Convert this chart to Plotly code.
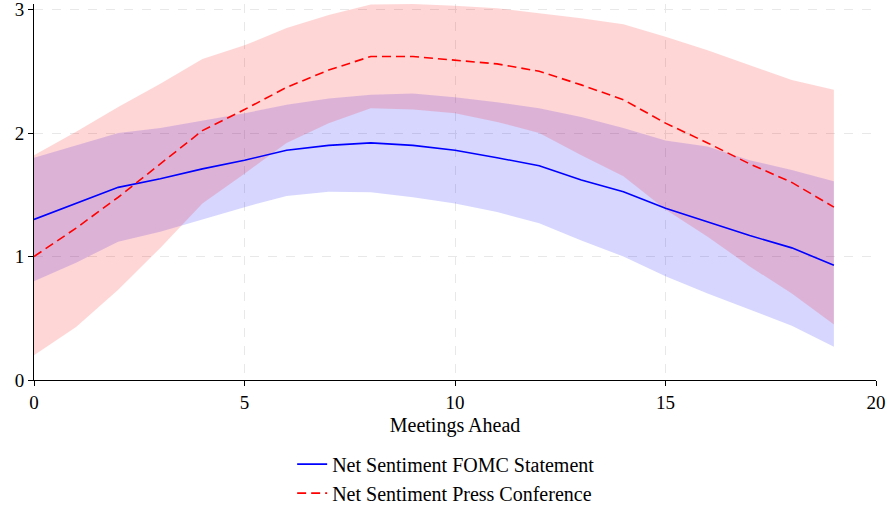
import plotly.graph_objects as go

meetings = list(range(20))

fomc = [1.30, 1.43, 1.56, 1.63, 1.71, 1.78, 1.86, 1.90, 1.92, 1.90,
        1.86, 1.80, 1.735, 1.62, 1.525, 1.39, 1.28, 1.17, 1.07, 0.93]
fomc_hi = [1.80, 1.90, 2.00, 2.04, 2.10, 2.16, 2.23, 2.28, 2.31, 2.32,
           2.29, 2.25, 2.20, 2.13, 2.04, 1.94, 1.89, 1.78, 1.70, 1.61]
fomc_lo = [0.80, 0.95, 1.12, 1.20, 1.30, 1.40, 1.49, 1.525, 1.52, 1.48,
           1.43, 1.36, 1.27, 1.13, 1.00, 0.84, 0.70, 0.57, 0.44, 0.27]

press = [1.00, 1.23, 1.48, 1.75, 2.02, 2.19, 2.37, 2.51, 2.62, 2.62,
         2.59, 2.56, 2.50, 2.39, 2.27, 2.08, 1.92, 1.75, 1.60, 1.40]
press_hi = [1.82, 2.01, 2.21, 2.40, 2.60, 2.71, 2.85, 2.955, 3.04, 3.045,
            3.03, 3.01, 2.97, 2.93, 2.88, 2.78, 2.67, 2.55, 2.43, 2.35]
press_lo = [0.20, 0.43, 0.73, 1.07, 1.43, 1.67, 1.92, 2.08, 2.20, 2.19,
            2.16, 2.09, 2.00, 1.82, 1.65, 1.38, 1.16, 0.92, 0.70, 0.45]

x_ticks = [0, 5, 10, 15, 20]
y_ticks = [0, 1, 2, 3]

FONT = "Liberation Serif, DejaVu Serif, Times New Roman, serif"

fig = go.Figure()

# FOMC band
fig.add_trace(go.Scatter(x=meetings, y=fomc_hi, mode="lines", line=dict(width=0),
                         showlegend=False, hoverinfo="skip"))
fig.add_trace(go.Scatter(x=meetings, y=fomc_lo, mode="lines", line=dict(width=0),
                         fill="tonexty", fillcolor="rgba(0,0,255,0.16)",
                         showlegend=False, hoverinfo="skip"))
# Press band
fig.add_trace(go.Scatter(x=meetings, y=press_hi, mode="lines", line=dict(width=0),
                         showlegend=False, hoverinfo="skip"))
fig.add_trace(go.Scatter(x=meetings, y=press_lo, mode="lines", line=dict(width=0),
                         fill="tonexty", fillcolor="rgba(255,0,0,0.16)",
                         showlegend=False, hoverinfo="skip"))

fig.add_trace(go.Scatter(x=meetings, y=fomc, mode="lines",
                         line=dict(color="#0000FF", width=1.6),
                         name="Net Sentiment FOMC Statement"))
fig.add_trace(go.Scatter(x=meetings, y=press, mode="lines",
                         line=dict(color="#FF0000", width=1.6, dash="9px,5px"),
                         name="Net Sentiment Press Conference"))

fig.update_layout(
    width=887, height=507,
    margin=dict(l=33.5, r=11, t=4, b=127, autoexpand=False),
    paper_bgcolor="white", plot_bgcolor="white",
    font=dict(family=FONT, size=19, color="black"),
    showlegend=True,
    legend=dict(orientation="v", xref="container", x=0.503, xanchor="center",
                yref="container", y=0.123, yanchor="top",
                font=dict(family=FONT, size=20), bgcolor="rgba(0,0,0,0)",
                traceorder="normal", tracegroupgap=0),
    xaxis=dict(range=[0, 20], tickvals=x_ticks, showline=True, linecolor="black",
               linewidth=1, ticks="outside", ticklen=5, tickcolor="black",
               showgrid=True, gridcolor="#e8e8e8", griddash="dash", gridwidth=1,
               zeroline=False, automargin=False,
               title=dict(text="Meetings Ahead", font=dict(family=FONT, size=20),
                          standoff=6),
               tickfont=dict(family=FONT, size=19)),
    yaxis=dict(range=[0, 3.045], tickvals=y_ticks, showline=True, linecolor="black",
               linewidth=1, ticks="outside", ticklen=5, tickcolor="black",
               showgrid=True, gridcolor="#e8e8e8", griddash="dash", gridwidth=1,
               zeroline=False, automargin=False, ticklabeloverflow="allow",
               tickfont=dict(family=FONT, size=19)),
)

fig.write_html("out.html")
